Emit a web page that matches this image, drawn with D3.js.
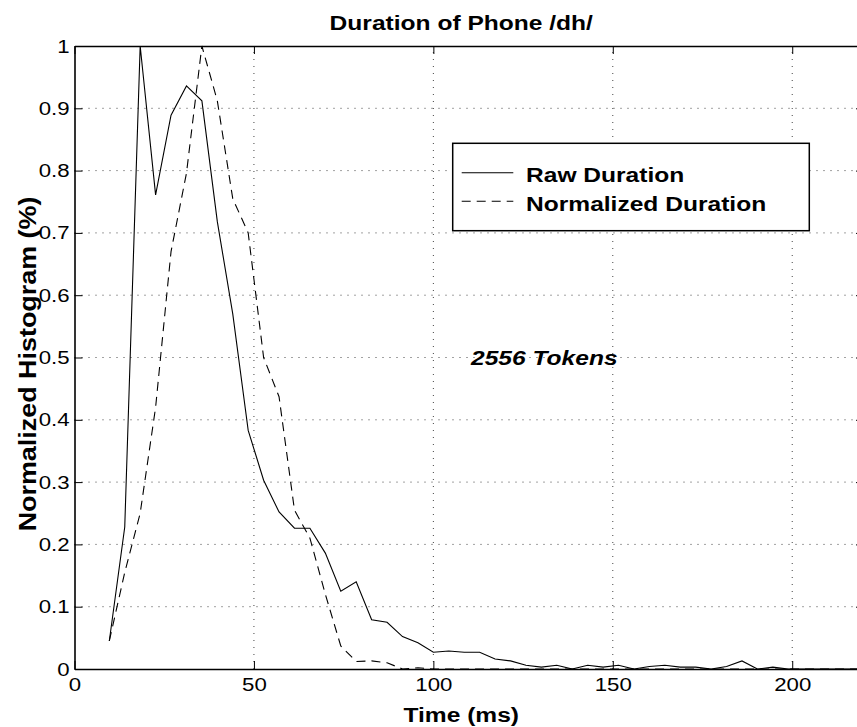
<!DOCTYPE html>
<html lang="en">
  <head>
    <meta charset="utf-8">
    <title>Duration of Phone /dh/</title>
    <style>
      body { margin: 0; background: #fff; }
      text { font-family: "Liberation Sans", Arial, Helvetica, sans-serif; }
    </style>
    <script src="https://d3js.org/d3.v7.min.js"></script>
  </head>
  <body>

    <div id="viz"></div>

    <script>

    // time bins (ms)
    var timeMs = [9.7, 14.0, 18.3, 22.6, 26.9, 31.2, 35.5, 39.8, 44.1, 48.4,
                  52.7, 57.0, 61.3, 65.6, 69.9, 74.2, 78.5, 82.8, 87.1, 91.4,
                  95.7, 100.0, 104.3, 108.6, 112.9, 117.2, 121.5, 125.8, 130.1, 134.4,
                  138.7, 143.0, 147.3, 151.6, 155.9, 160.2, 164.5, 168.8, 173.1, 177.4,
                  181.7, 186.0, 190.3, 194.6, 198.9, 203.2, 207.5, 211.8, 216.1, 220.4];

    var rawDuration = [0.045, 0.228, 1.0, 0.761, 0.889, 0.936, 0.912, 0.718, 0.57, 0.383,
                       0.303, 0.252, 0.226, 0.226, 0.186, 0.125, 0.140, 0.079, 0.075, 0.052,
                       0.042, 0.027, 0.029, 0.027, 0.027, 0.016, 0.013, 0.006, 0.003, 0.006,
                       0, 0.006, 0.003, 0.006, 0, 0.004, 0.006, 0.003, 0.003, 0,
                       0.004, 0.013, 0, 0.003, 0, 0, 0, 0, 0, 0];

    var normDuration = [0.045, 0.155, 0.25, 0.42, 0.67, 0.796, 1.0, 0.912, 0.755, 0.70,
                        0.50, 0.437, 0.255, 0.21, 0.12, 0.037, 0.012, 0.013, 0.01, 0,
                        0.002, 0, 0, 0, 0, 0, 0, 0, 0, 0,
                        0, 0, 0, 0, 0, 0, 0, 0, 0, 0,
                        0, 0, 0, 0, 0, 0, 0, 0, 0, 0];

    var xTicks = [0, 50, 100, 150, 200];
    var yTicks = [0, 0.1, 0.2, 0.3, 0.4, 0.5, 0.6, 0.7, 0.8, 0.9, 1];
    var yTickLabels = ['0', '0.1', '0.2', '0.3', '0.4', '0.5', '0.6', '0.7', '0.8', '0.9', '1'];

    var seriesNames = ['Raw Duration', 'Normalized Duration'];
    var seriesDash = [null, '9,6'];

    var W = 857, H = 727;
    var pL = 74.5, pT = 46, pB = 669, pR = 864;
    var SX = 1.17; // the reference text is drawn a bit wide

    var svg = d3.select('#viz')
        .append('svg')
        .attr('width', W)
        .attr('height', H);

    var x = d3.scaleLinear().domain([0, 220]).range([pL, pR]);
    var y = d3.scaleLinear().domain([0, 1]).range([pB, pT]);

    // grid
    var grid = svg.append('g')
        .attr('stroke', '#444')
        .attr('stroke-width', 1)
        .attr('stroke-dasharray', '1,6');
    grid.selectAll('line.v')
      .data(xTicks.filter(function(d) { return d > 0; }))
      .enter().append('line')
        .attr('x1', function(d) { return x(d); })
        .attr('x2', function(d) { return x(d); })
        .attr('y1', pB)
        .attr('y2', pT);
    grid.selectAll('line.h')
      .data(yTicks.filter(function(d) { return d > 0 && d < 1; }))
      .enter().append('line')
        .attr('x1', pL)
        .attr('x2', pR)
        .attr('y1', function(d) { return y(d); })
        .attr('y2', function(d) { return y(d); });

    // data lines
    svg.append('clipPath').attr('id', 'plotclip')
      .append('rect')
        .attr('x', pL).attr('y', pT - 1)
        .attr('width', pR - pL).attr('height', pB - pT + 1);

    var line = d3.line()
        .x(function(d) { return x(d[0]); })
        .y(function(d) { return y(d[1]); });

    [rawDuration, normDuration].forEach(function(vals, si) {
      svg.append('path')
        .datum(timeMs.map(function(t, i) { return [t, vals[i]]; }))
        .attr('clip-path', 'url(#plotclip)')
        .attr('fill', 'none')
        .attr('stroke', '#000')
        .attr('stroke-width', 1.1)
        .attr('stroke-dasharray', seriesDash[si])
        .attr('d', line);
    });

    // axes
    var fontSize = 19;
    var xAxis = svg.append('g')
        .attr('transform', 'translate(0,' + pB + ')')
        .call(d3.axisBottom(x).tickValues(xTicks).tickSize(-8).tickPadding(9).tickSizeOuter(0));
    var yAxis = svg.append('g')
        .attr('transform', 'translate(' + pL + ',0)')
        .call(d3.axisLeft(y).tickValues(yTicks).tickSize(-8).tickPadding(5).tickSizeOuter(0)
          .tickFormat(function(d, i) { return yTickLabels[i]; }));
    svg.append('g')
        .attr('transform', 'translate(0,' + pT + ')')
        .call(d3.axisTop(x).tickValues(xTicks).tickSize(-8).tickSizeOuter(0).tickFormat(''));
    svg.append('g')
        .attr('transform', 'translate(' + pR + ',0)')
        .call(d3.axisRight(y).tickValues(yTicks).tickSize(-8).tickSizeOuter(0).tickFormat(''));

    svg.selectAll('.domain').attr('stroke', '#000').attr('stroke-width', 1.6);
    svg.selectAll('.tick line').attr('stroke', '#000').attr('stroke-width', 1);
    svg.selectAll('.tick text')
        .attr('fill', '#000')
        .style('font-size', fontSize + 'px')
        .style('font-family', '"Liberation Sans", Arial, sans-serif')
        .attr('transform', 'scale(' + SX + ',1)');
    yAxis.selectAll('.tick text').attr('x', -5 / SX);

    // title, labels, note
    function label(px, py, str, size, opts) {
      opts = opts || {};
      var t = svg.append('text')
          .attr('transform', 'translate(' + px + ',' + py + ')' +
                (opts.rotate ? ' rotate(' + opts.rotate + ')' : '') +
                ' scale(' + SX + ',1)')
          .attr('text-anchor', opts.anchor || 'start')
          .style('font-size', size + 'px')
          .style('font-weight', 'bold')
          .text(str);
      if (opts.italic) t.style('font-style', 'italic');
      return t;
    }

    label((pL + pR) / 2 - 8, 30, 'Duration of Phone /dh/', 21, {anchor: 'middle'});
    label((pL + pR) / 2 - 8, 722, 'Time (ms)', 21, {anchor: 'middle'});
    label(36, 364, 'Normalized Histogram (%)', 23, {anchor: 'middle', rotate: -90});
    label(x(110.5), y(0.5) + 7.5, '2556 Tokens', 21, {italic: true});

    // legend
    var legend = svg.append('g');
    legend.append('rect')
        .attr('x', 452.7).attr('y', 143.3)
        .attr('width', 356.6).attr('height', 87.4)
        .attr('fill', '#fff')
        .attr('stroke', '#000')
        .attr('stroke-width', 1.5);
    seriesNames.forEach(function(name, i) {
      var ly = 172.7 + i * 28.5;
      legend.append('line')
        .attr('x1', 461.7).attr('x2', 513.3)
        .attr('y1', ly).attr('y2', ly)
        .attr('stroke', '#000')
        .attr('stroke-width', 1.1)
        .attr('stroke-dasharray', seriesDash[i]);
      label(526, ly + 9.5, name, 21);
    });

    </script>
  </body>
</html>
